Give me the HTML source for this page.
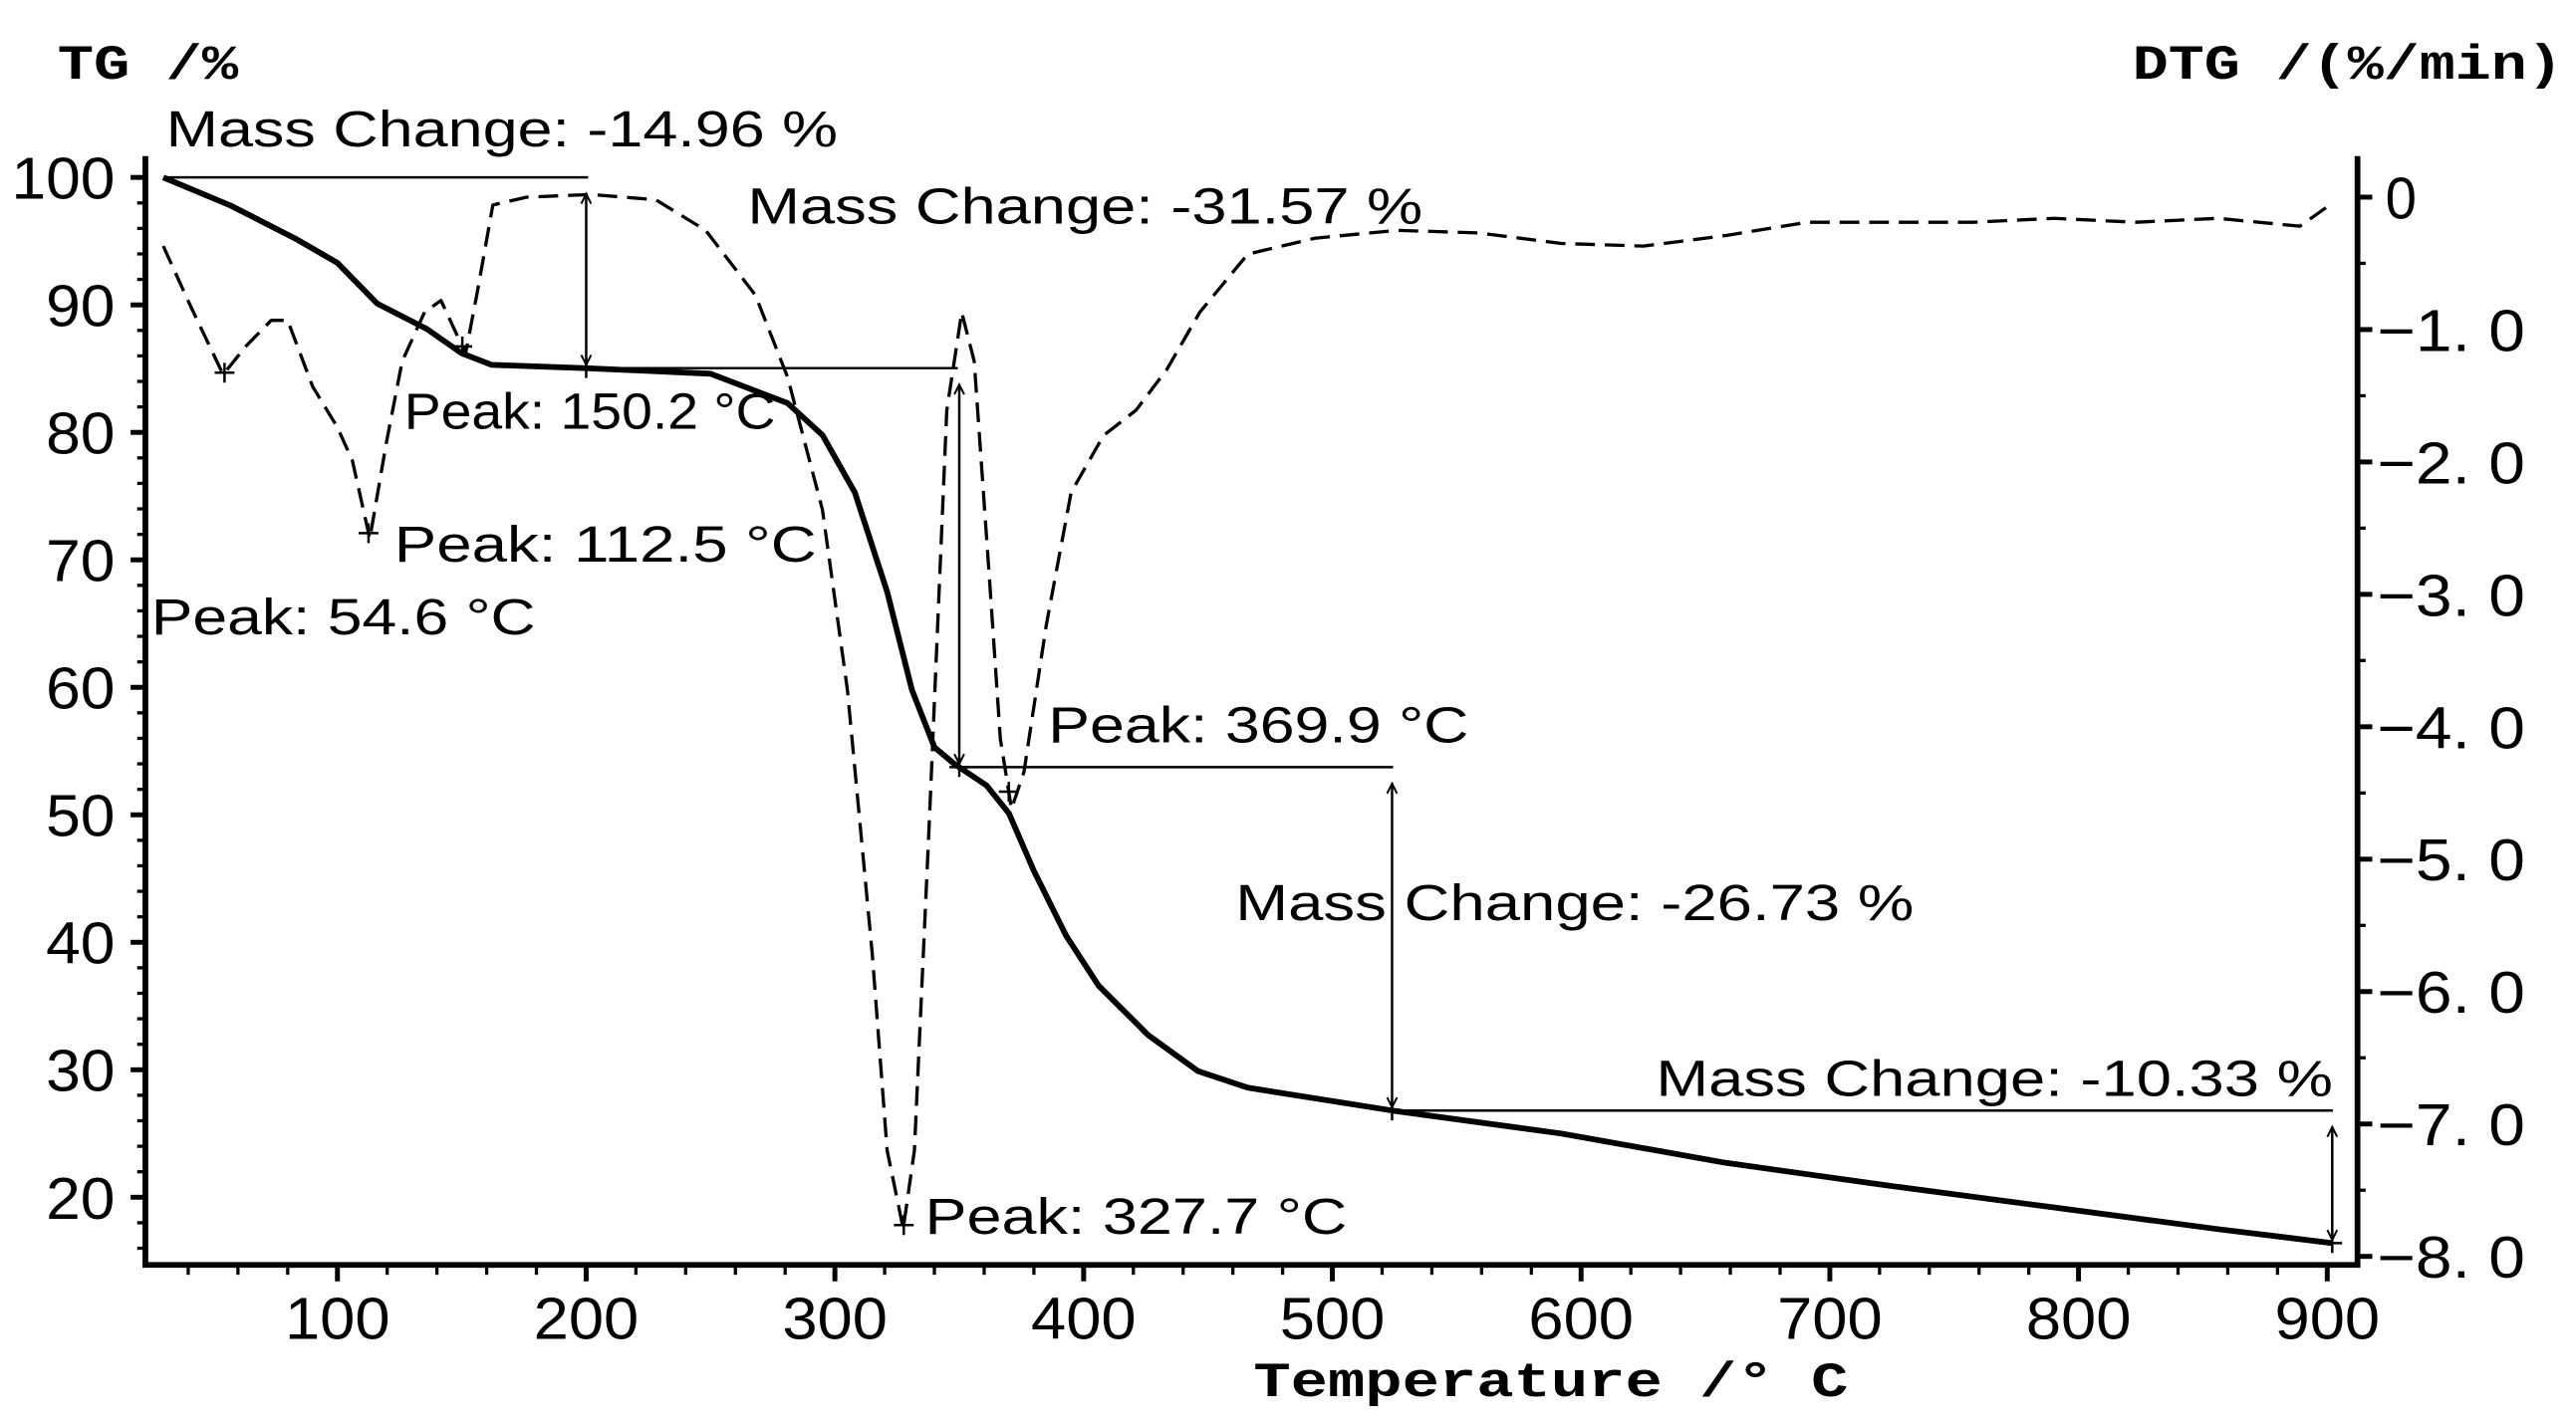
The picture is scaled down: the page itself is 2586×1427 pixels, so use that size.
<!DOCTYPE html>
<html><head><meta charset="utf-8"><style>
html,body{margin:0;padding:0;background:#fff;}
svg{display:block;}
text{font-family:"Liberation Sans",Arial,sans-serif;fill:#000;}
.mono{font-family:"Liberation Mono","DejaVu Sans Mono",monospace;font-weight:bold;}
</style></head><body>
<svg id="chart" width="2586" height="1427" viewBox="0 0 1568 865" preserveAspectRatio="none" xmlns="http://www.w3.org/2000/svg">
<g id="axes"></g>
<g id="series"></g>
<g id="annot"></g>
<text class="mono" x="35" y="48" font-size="30" textLength="110" lengthAdjust="spacingAndGlyphs">TG /%</text>
<text class="mono" x="1298" y="48" font-size="30" textLength="262" lengthAdjust="spacingAndGlyphs">DTG /(%/min)</text>
<text class="mono" x="763" y="850" font-size="30" textLength="362" lengthAdjust="spacingAndGlyphs">Temperature /° C</text>
</svg>
<script>
const xTicks = [100,200,300,400,500,600,700,800,900];
const tgTicks = [100,90,80,70,60,50,40,30,20];
const dtgTicks = [0,-1,-2,-3,-4,-5,-6,-7,-8];
const tgT = [30,57,83,100,116,136,150,162,200,250,281,295,308,321,331,340,348,361,370,380,393,406,426,446,466,524,592,658,724,790,856,902];
const tgV = [100,97.8,95.2,93.3,90.1,88.1,86.2,85.3,85.04,84.6,82.3,79.8,75.3,67.5,59.8,55.3,54.0,52.3,50.1,45.6,40.5,36.6,32.7,29.9,28.6,26.8,25.0,22.7,20.9,19.2,17.5,16.4];
const dtgT = [30,40.6,54,63.5,73.4,80,90,100,106,113,119.6,126,135,141.6,151.5,156,162.5,176,202,228,248,268,281,295,305,315,321,327.5,332,338,345,351,356,362,366.5,371,376,385,395,408,421,433.5,446.7,466,493,526,559,592,625,658,691,724,757.6,790,823,856,889,901];
const dtgV = [-0.37,-0.81,-1.34,-1.12,-0.93,-0.93,-1.43,-1.74,-1.99,-2.58,-1.86,-1.24,-0.87,-0.78,-1.18,-0.74,-0.06,0,0.02,-0.02,-0.25,-0.74,-1.36,-2.36,-3.72,-5.71,-7.2,-7.79,-7.2,-4.71,-1.61,-0.87,-1.24,-2.85,-4.09,-4.62,-4.34,-3.23,-2.23,-1.8,-1.61,-1.3,-0.87,-0.43,-0.31,-0.25,-0.27,-0.35,-0.37,-0.29,-0.19,-0.19,-0.19,-0.16,-0.19,-0.16,-0.22,-0.06];
const peakTemps = [54.6,112.5,150.2,327.7,369.9];
const peakLabels = ["Peak: 54.6 °C","Peak: 112.5 °C","Peak: 150.2 °C","Peak: 327.7 °C","Peak: 369.9 °C"];
const massSteps = [[30,200],[200,350],[350,524],[524,902]];
const massLabels = ["Mass Change: -14.96 %","Mass Change: -31.57 %","Mass Change: -26.73 %","Mass Change: -10.33 %"];

const NS="http://www.w3.org/2000/svg";
const L=88.5,R=1435,B=770,T=95;
function xs(t){return 205.4+1.514*(t-100);}
function ytg(v){return 108+7.76*(100-v);}
function ydtg(v){return 120-80.6*v;}
function interp(ts,vs,t){for(let i=1;i<ts.length;i++){if(t<=ts[i]){const f=(t-ts[i-1])/(ts[i]-ts[i-1]);return vs[i-1]+f*(vs[i]-vs[i-1]);}}return vs[vs.length-1];}
function mk(tag,attrs,parent){const e=document.createElementNS(NS,tag);for(const k in attrs)e.setAttribute(k,attrs[k]);parent.appendChild(e);return e;}
const ax=document.getElementById('axes'),se=document.getElementById('series'),an=document.getElementById('annot');

let e;
e=mk('path',{d:`M${L},${T} V${B} H${R} V${T}`,fill:'none',stroke:'#000','stroke-width':3.5},ax);


for(let t=40;t<=900;t+=20){const maj=t%100===0;e=mk('line',{x1:xs(t),x2:xs(t),y1:B,y2:B+(maj?10:6),stroke:'#000','stroke-width':maj?3:2},ax);

}
xTicks.forEach(t=>{e=mk('text',{x:xs(t),y:815,'font-size':36,'text-anchor':'middle',textLength:64,lengthAdjust:'spacingAndGlyphs'},ax);e.textContent=t;

});
for(let v=16;v<=100;v+=2){const maj=v%10===0;e=mk('line',{x1:L-(maj?9:5),x2:L,y1:ytg(v),y2:ytg(v),stroke:'#000','stroke-width':maj?3:2},ax);

}
tgTicks.forEach(v=>{const w=v>=100?63:42;e=mk('text',{x:70-w,y:ytg(v)+13,'font-size':36,textLength:w,lengthAdjust:'spacingAndGlyphs'},ax);e.textContent=v;

});
for(let k=0;k<=16;k++){const v=-k*0.5;const maj=k%2===0;e=mk('line',{x1:R,x2:R+(maj?9:5),y1:ydtg(v),y2:ydtg(v),stroke:'#000','stroke-width':maj?3:2},ax);

}
dtgTicks.forEach(v=>{const z=v===0;e=mk('text',{x:z?1452:1447,y:ydtg(v)+13,'font-size':36,textLength:z?19:90,lengthAdjust:'spacingAndGlyphs'},ax);e.textContent=z?'0':'\u2212'+Math.abs(v)+'. 0';

});

e=mk('path',{d:dtgT.map((t,i)=>(i?'L':'M')+xs(t).toFixed(1)+','+ydtg(dtgV[i]).toFixed(1)).join(' '),fill:'none',stroke:'#000','stroke-width':2,'stroke-dasharray':'12 6','stroke-linejoin':'round'},se);


e=mk('path',{d:tgT.map((t,i)=>(i?'L':'M')+xs(t).toFixed(1)+','+ytg(tgV[i]).toFixed(1)).join(' '),fill:'none',stroke:'#000','stroke-width':3.5,'stroke-linejoin':'round'},se);



function cross(x,y){mk('path',{d:`M${x-6},${y} H${x+6} M${x},${y-6} V${y+6}`,stroke:'#000','stroke-width':1.5},an);}
function arrow(x,y1,y2){mk('line',{x1:x,x2:x,y1:y1,y2:y2,stroke:'#000','stroke-width':1.5},an);
 const d1=y2>y1?1:-1;
 mk('path',{d:`M${x-3},${y2-6*d1} L${x},${y2} L${x+3},${y2-6*d1} M${x-3},${y1+6*d1} L${x},${y1} L${x+3},${y1+6*d1}`,fill:'none',stroke:'#000','stroke-width':1.2},an);}

const plPos=[[92,386,234],[240,342,257],[246,261,226],[563,751,257],[638,452,256]];
peakTemps.forEach((t,i)=>{const x=xs(t),y=ydtg(interp(dtgT,dtgV,t));cross(x,y);
 e=mk('text',{x:plPos[i][0],y:plPos[i][1],'font-size':31,textLength:plPos[i][2],lengthAdjust:'spacingAndGlyphs'},an);e.textContent=peakLabels[i];
 
 });

const mlPos=[[101,89,409],[455,136,411],[752,560,413],[1008,667,412]];
const hl=[[101,358],[357,583],[583,848],[848,1420]];
massSteps.forEach((s,i)=>{const ya=ytg(interp(tgT,tgV,s[0])),yb=ytg(interp(tgT,tgV,s[1]));
 const xb=xs(s[1]);
 mk('line',{x1:hl[i][0],x2:hl[i][1],y1:ya,y2:ya,stroke:'#000','stroke-width':1.5},an);
 arrow(xb,ya+10,yb-2);cross(xb,yb);
 e=mk('text',{x:mlPos[i][0],y:mlPos[i][1],'font-size':31,textLength:mlPos[i][2],lengthAdjust:'spacingAndGlyphs'},an);e.textContent=massLabels[i];
 
 });
</script>
</body></html>
